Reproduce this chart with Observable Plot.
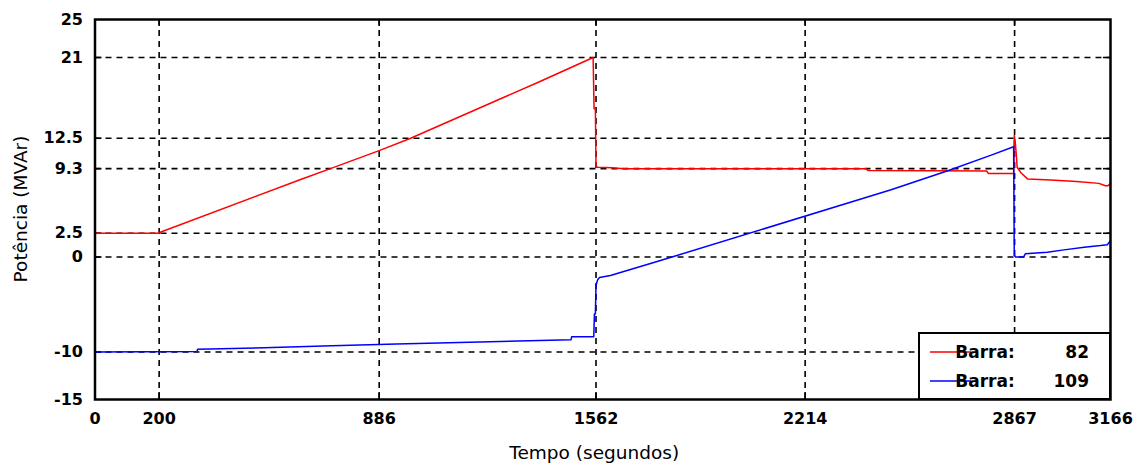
<!DOCTYPE html>
<html><head><meta charset="utf-8">
<script src="https://cdn.jsdelivr.net/npm/d3@7"></script>
<script src="https://cdn.jsdelivr.net/npm/@observablehq/plot@0.6"></script>
<style>body{margin:0;background:#fff}</style>
</head><body><div id="chart"></div>
<script>
// ---- data ----
const xTicks = [0, 200, 886, 1562, 2214, 2867, 3166];
const yTicks = [-15, -10, 0, 2.5, 9.3, 12.5, 21, 25];
const xGrid = [200, 886, 1562, 2214, 2867];
const yGrid = [-10, 0, 2.5, 9.3, 12.5, 21];
const legendNames = ["82", "109"];
const xTitle = "Tempo (segundos)";
const yTitle = "Potência (MVAr)";

const red_t = [0, 195, 641, 734, 886, 984, 1389, 1553, 1556, 1560, 1562, 1568, 1610, 1650, 2403, 2410, 2780, 2785, 2864, 2866, 2869, 2872, 2875, 2886, 2908, 2980, 3060, 3130, 3150, 3158, 3166];
const red_v = [2.5, 2.5, 8.15, 9.3, 11.2, 12.5, 18.5, 21.0, 15.6, 15.6, 9.5, 9.45, 9.4, 9.3, 9.3, 9.1, 9.05, 8.8, 8.8, 12.8, 12.1, 10.9, 9.45, 8.9, 8.2, 8.1, 7.95, 7.75, 7.5, 7.5, 7.75];

const blue_t = [0, 318, 320, 527, 739, 941, 1200, 1484, 1486, 1555, 1557, 1560, 1562, 1567, 1573, 1607, 1763, 2482, 2661, 2792, 2864, 2866, 2870, 2895, 2901, 2969, 3021, 3084, 3135, 3156, 3166];
const blue_v = [-10, -9.95, -9.7, -9.55, -9.35, -9.15, -8.95, -8.72, -8.4, -8.4, -6.0, -6.0, -3.0, -2.4, -2.15, -1.95, -0.37, 7.07, 9.1, 10.7, 11.6, 0.15, 0.0, 0.0, 0.35, 0.5, 0.75, 1.03, 1.2, 1.3, 1.7];

const redData = red_t.map((t, i) => ({t, v: red_v[i]}));
const blueData = blue_t.map((t, i) => ({t, v: blue_v[i]}));

// ---- layout ----
const W = 1145, H = 468;
const mL = 94.5, mR = 35, mT = 19, mB = 69;
const fw = W - mL - mR, fh = H - mT - mB;
const tick = 7;
const gridStyle = {stroke: "black", strokeWidth: 1.6, strokeDasharray: "6,5"};
const tickStyle = {stroke: "black", strokeWidth: 1.6};

const plot = Plot.plot({
  width: W, height: H,
  marginLeft: mL, marginRight: mR, marginTop: mT, marginBottom: mB,
  style: {fontFamily: "DejaVu Sans", fontSize: "16px", fontWeight: "bold", background: "white", color: "black"},
  x: {domain: [0, 3166], ticks: xTicks, tickSize: 0, tickPadding: 13, tickFormat: d => String(d), label: null},
  y: {domain: [-15, 25], ticks: yTicks, tickSize: 0, tickPadding: 12, tickFormat: d => String(d), label: null},
  marks: [
    Plot.ruleX(xGrid, gridStyle),
    Plot.ruleY(yGrid, gridStyle),
    Plot.ruleX(xGrid, {...tickStyle, insetTop: fh - tick}),
    Plot.ruleX(xGrid, {...tickStyle, insetBottom: fh - tick}),
    Plot.ruleY(yGrid, {...tickStyle, insetRight: fw - tick}),
    Plot.ruleY(yGrid, {...tickStyle, insetLeft: fw - tick}),
    Plot.line(redData, {x: "t", y: "v", stroke: "#ff0000", strokeWidth: 1.5}),
    Plot.line(blueData, {x: "t", y: "v", stroke: "#0000ff", strokeWidth: 1.5}),
    Plot.frame({stroke: "black", strokeWidth: 2.5})
  ]
});
document.getElementById("chart").appendChild(plot);

const svg = d3.select(plot);
const xs = plot.scale("x"), ys = plot.scale("y");
const fx0 = xs.apply(0), fx1 = xs.apply(3166);
const fy0 = ys.apply(25), fy1 = ys.apply(-15);

// axis titles
svg.append("text")
  .attr("x", (fx0 + fx1) / 2 - 8).attr("y", 452)
  .attr("text-anchor", "middle").attr("dominant-baseline", "central")
  .attr("font-family", "DejaVu Sans").attr("font-size", 18.5).attr("font-weight", "normal")
  .attr("fill", "black").text(xTitle);
svg.append("text")
  .attr("transform", `translate(20,${(fy0 + fy1) / 2}) rotate(-90)`)
  .attr("text-anchor", "middle").attr("dominant-baseline", "central")
  .attr("font-family", "DejaVu Sans").attr("font-size", 18.5).attr("font-weight", "normal")
  .attr("fill", "black").text(yTitle);

// legend
const lw = 191, lh = 66;
const lg = svg.append("g").attr("transform", `translate(${fx1 - lw},${fy1 - lh})`);
lg.append("rect").attr("width", lw).attr("height", lh)
  .attr("fill", "white").attr("stroke", "black").attr("stroke-width", 2);
const colors = ["#ff0000", "#0000ff"];
legendNames.forEach((n, i) => {
  const yy = 19 + i * 29;
  lg.append("line").attr("x1", 11).attr("x2", 52).attr("y1", yy).attr("y2", yy)
    .attr("stroke", colors[i]).attr("stroke-width", 1.5);
  lg.append("text").attr("x", 66).attr("y", yy).attr("dominant-baseline", "central")
    .attr("font-family", "DejaVu Sans").attr("font-size", 17).attr("font-weight", "bold")
    .attr("fill", "black").text("Barra:");
  lg.append("text").attr("x", 170).attr("y", yy).attr("dominant-baseline", "central")
    .attr("text-anchor", "end")
    .attr("font-family", "DejaVu Sans").attr("font-size", 17).attr("font-weight", "bold")
    .attr("fill", "black").text(n);
});
</script>
</body></html>
